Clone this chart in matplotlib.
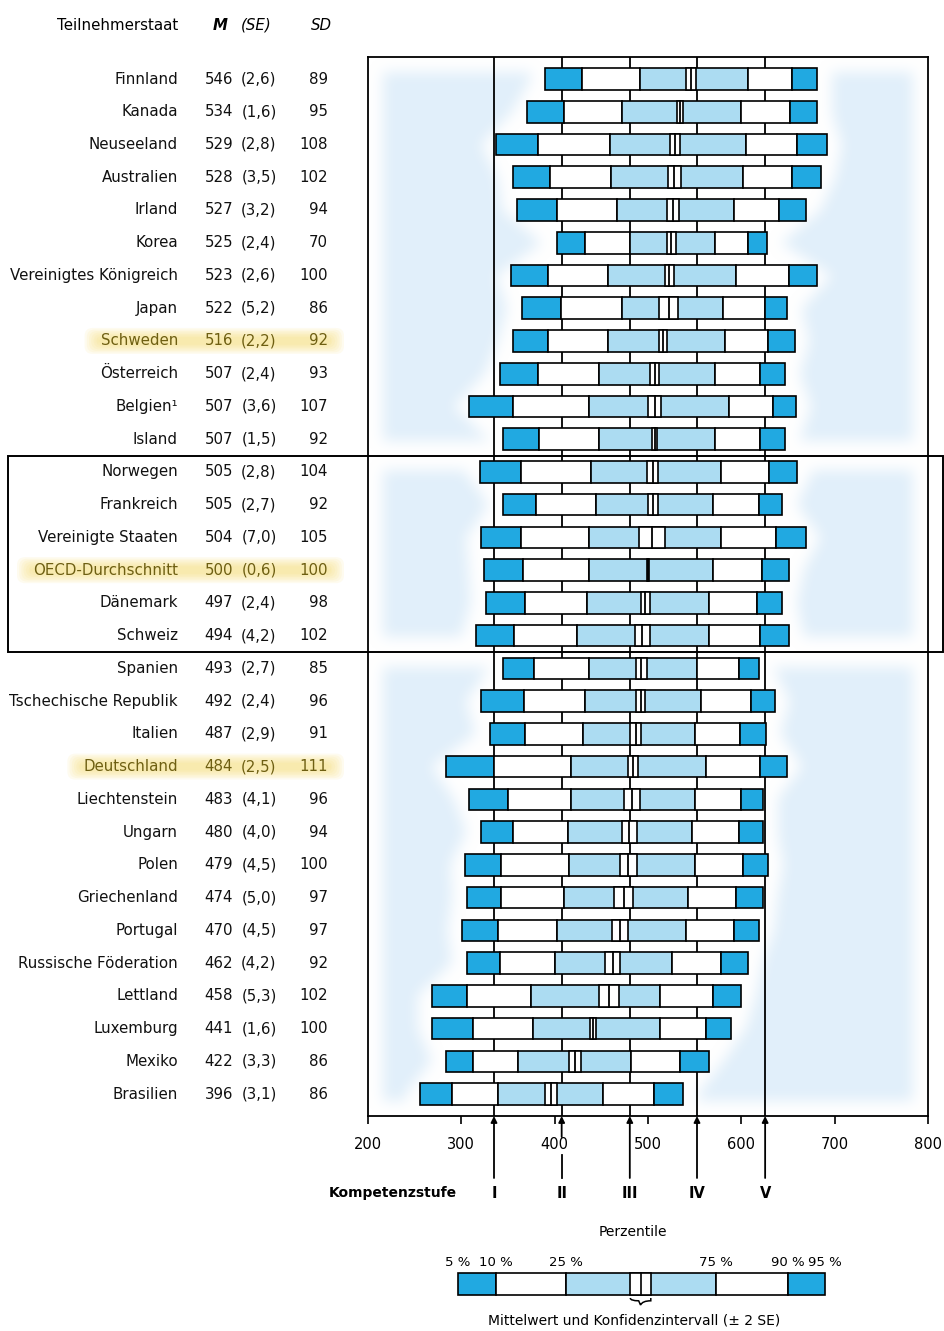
import numpy as np
import matplotlib
matplotlib.use("Agg")
import matplotlib.pyplot as plt
import matplotlib.transforms as mtransforms
from matplotlib.patches import Rectangle, FancyBboxPatch, PathPatch
from matplotlib.path import Path
from matplotlib.colors import LinearSegmentedColormap

plt.rcParams['font.family'] = ['DejaVu Sans']


## Daten (Lesekompetenz, Perzentile)

laender = ["Finnland", "Kanada", "Neuseeland", "Australien", "Irland", "Korea",
           "Vereinigtes Königreich", "Japan", "Schweden", "Österreich", "Belgien¹",
           "Island", "Norwegen", "Frankreich", "Vereinigte Staaten", "OECD-Durchschnitt",
           "Dänemark", "Schweiz", "Spanien", "Tschechische Republik", "Italien",
           "Deutschland", "Liechtenstein", "Ungarn", "Polen", "Griechenland", "Portugal",
           "Russische Föderation", "Lettland", "Luxemburg", "Mexiko", "Brasilien"]

mittel = [546, 534, 529, 528, 527, 525, 523, 522, 516, 507, 507, 507, 505, 505, 504, 500,
          497, 494, 493, 492, 487, 484, 483, 480, 479, 474, 470, 462, 458, 441, 422, 396]
se = [2.6, 1.6, 2.8, 3.5, 3.2, 2.4, 2.6, 5.2, 2.2, 2.4, 3.6, 1.5, 2.8, 2.7, 7.0, 0.6,
      2.4, 4.2, 2.7, 2.4, 2.9, 2.5, 4.1, 4.0, 4.5, 5.0, 4.5, 4.2, 5.3, 1.6, 3.3, 3.1]
sd = [89, 95, 108, 102, 94, 70, 100, 86, 92, 93, 107, 92, 104, 92, 105, 100,
      98, 102, 85, 96, 91, 111, 96, 94, 100, 97, 97, 92, 102, 100, 86, 86]

p05 = [390, 370, 337, 355, 360, 402, 353, 365, 355, 341, 308, 345, 320, 345, 321, 324,
       326, 316, 345, 321, 331, 284, 308, 321, 304, 306, 301, 306, 269, 269, 284, 256]
p10 = [429, 410, 382, 395, 402, 432, 393, 407, 393, 382, 355, 383, 364, 380, 364, 366,
       368, 356, 378, 367, 368, 335, 350, 355, 343, 343, 339, 341, 306, 312, 312, 290]
p25 = [491, 472, 459, 460, 467, 481, 457, 472, 457, 447, 437, 447, 439, 444, 437, 437,
       435, 424, 437, 432, 430, 417, 417, 414, 415, 410, 402, 400, 375, 377, 361, 339]
p75 = [607, 600, 605, 602, 592, 572, 594, 580, 582, 572, 587, 572, 578, 570, 578, 570,
       565, 565, 552, 557, 550, 562, 550, 547, 550, 543, 541, 526, 513, 513, 482, 452]
p90 = [654, 652, 660, 654, 640, 607, 651, 625, 629, 620, 634, 620, 630, 619, 637, 622,
       617, 620, 598, 610, 599, 620, 600, 597, 602, 594, 592, 578, 570, 562, 534, 506]
p95 = [681, 681, 692, 685, 669, 627, 681, 649, 657, 647, 659, 647, 660, 644, 669, 651,
       644, 651, 619, 636, 626, 649, 623, 623, 629, 623, 619, 607, 600, 589, 565, 538]

gruppen = [12, 6, 14]          # oberhalb / nicht signifikant verschieden / unterhalb
hervorgehoben = ["Schweden", "OECD-Durchschnitt", "Deutschland"]

stufen = ["I", "II", "III", "IV", "V"]
stufen_grenzen = [335, 407.5, 480.5, 552.5, 625.5]

x_ticks = [200, 300, 400, 500, 600, 700, 800]

# Legende (schematischer Balken)
legende_labels = ["5 %", "10 %", "25 %", "75 %", "90 %", "95 %"]
legende_werte = [296, 337, 412, 573, 650, 690]
legende_mittel = 492
legende_ki = 11

dunkelblau = "#21a9e1"
hellblau = "#acdcf2"
hintergrund = "#e1effa"
gelb_text = "#6e5f12"


## Abbildung

W, H = 945, 1331
fig = plt.figure(figsize=(W / 100, H / 100), dpi=100)
ax = fig.add_axes([368 / W, 1 - 1116 / H, 560 / W, (1116 - 57) / H])

n = len(laender)
y_oben, y_unten = -0.672, 31.67
grenzen = list(np.cumsum(gruppen)[:-1] - 0.5)

# weicher hellblauer Hintergrund, der sich an die Balkenenden anschmiegt
nx, ny = 560, 1059
xs = np.linspace(200, 800, nx)
ys = np.linspace(y_oben, y_unten, ny)
XX, YY = np.meshgrid(xs, ys)
maske = np.zeros((ny, nx))
kanten = [y_oben] + grenzen + [y_unten]
start = 0
for g in range(len(gruppen)):
    zeilen = np.arange(start, start + gruppen[g])
    start += gruppen[g]
    links = np.interp(ys, zeilen, [p05[i] - 16 for i in zeilen])
    rechts = np.interp(ys, zeilen, [p95[i] + 16 for i in zeilen])
    innen = (XX > 216) & (XX < 784) & (YY > kanten[g] + 0.45) & (YY < kanten[g + 1] - 0.45)
    aussen = (XX < links[:, None]) | (XX > rechts[:, None])
    maske[innen & aussen] = 1

def glaetten(a, r, achse):
    k = np.ones(2 * r + 1) / (2 * r + 1)
    return np.apply_along_axis(lambda v: np.convolve(v, k, mode="same"), achse, a)

for _ in range(3):
    maske = glaetten(maske, 6, 0)
    maske = glaetten(maske, 6, 1)

cmap = LinearSegmentedColormap.from_list("bg", ["white", hintergrund])
ax.imshow(maske, extent=(200, 800, y_unten, y_oben), origin="upper", aspect="auto",
          cmap=cmap, vmin=0, vmax=1, zorder=0, interpolation="bilinear")

# Kompetenzstufen-Linien
for g in stufen_grenzen:
    ax.axvline(g, color="black", lw=1.3, zorder=1)

# Balken
h = 0.66
for i in range(n):
    teile = [(p05[i], p10[i], dunkelblau), (p10[i], p25[i], "white"),
             (p25[i], p75[i], hellblau), (p75[i], p90[i], "white"),
             (p90[i], p95[i], dunkelblau)]
    for a, b, farbe in teile:
        ax.barh(i, b - a, left=a, height=h, color=farbe, edgecolor="black",
                linewidth=1.2, zorder=3)
    lo, hi = mittel[i] - 2 * se[i], mittel[i] + 2 * se[i]
    ax.add_patch(Rectangle((lo, i - h / 2), hi - lo, h, facecolor="white",
                           edgecolor="black", linewidth=1.2, zorder=4))
    ax.plot([mittel[i], mittel[i]], [i - h / 2, i + h / 2], color="black", lw=1.3, zorder=5)

ax.set_xlim(200, 800)
ax.set_ylim(y_unten, y_oben)
ax.set_yticks([])
ax.set_xticks(x_ticks)
ax.tick_params(axis="x", direction="out", length=6, width=1.2, pad=9, labelsize=10.5)
for s in ax.spines.values():
    s.set_linewidth(1.3)

# Rahmen um die mittlere Gruppe (über die ganze Breite)
tr_fy = mtransforms.blended_transform_factory(fig.transFigure, ax.transData)
fig.add_artist(Rectangle((8 / W, grenzen[0]), (943 - 8) / W, grenzen[1] - grenzen[0],
                         transform=tr_fy, fill=False, edgecolor="black", linewidth=1.4,
                         zorder=6, clip_on=False))

# Tabelle links
fs = 10.8
texte_hl = []
for i in range(n):
    farbe = gelb_text if laender[i] in hervorgehoben else "#111111"
    t = fig.text(178 / W, i, laender[i], transform=tr_fy, ha="right", va="center",
                 fontsize=fs, color=farbe, zorder=3)
    fig.text(219 / W, i, str(mittel[i]), transform=tr_fy, ha="center", va="center",
             fontsize=fs, color=farbe, zorder=3)
    fig.text(259 / W, i, "(" + f"{se[i]:.1f}".replace(".", ",") + ")", transform=tr_fy,
             ha="center", va="center", fontsize=fs, color=farbe, zorder=3)
    fig.text(328 / W, i, str(sd[i]), transform=tr_fy, ha="right", va="center",
             fontsize=fs, color=farbe, zorder=3)
    if laender[i] in hervorgehoben:
        texte_hl.append(t)

y_kopf = 1 - 25 / H
fig.text(178 / W, y_kopf, "Teilnehmerstaat", ha="right", va="center", fontsize=fs)
fig.text(220 / W, y_kopf, "M", ha="center", va="center", fontsize=fs, style="italic", weight="bold")
fig.text(256 / W, y_kopf, "(SE)", ha="center", va="center", fontsize=fs, style="italic")
fig.text(321 / W, y_kopf, "SD", ha="center", va="center", fontsize=fs, style="italic")

# Pfeile der Kompetenzstufen unter der Achse
tr_xf = mtransforms.blended_transform_factory(ax.transData, fig.transFigure)
y_achse = 1 - 1116 / H
y_ende = 1 - 1178 / H
pfeil = dict(arrowstyle="-|>", lw=1.3, color="black", mutation_scale=9, shrinkA=0, shrinkB=0)
for g, s in zip(stufen_grenzen, stufen):
    if min(abs(g - t) for t in x_ticks) < 12:
        ax.annotate("", xy=(g, y_achse), xycoords=tr_xf, xytext=(g, 1 - 1137 / H),
                    textcoords=tr_xf, arrowprops=pfeil, annotation_clip=False)
        fig.add_artist(plt.Line2D([g, g], [1 - 1155 / H, y_ende], transform=tr_xf,
                                  color="black", lw=1.3))
    else:
        ax.annotate("", xy=(g, y_achse), xycoords=tr_xf, xytext=(g, y_ende),
                    textcoords=tr_xf, arrowprops=pfeil, annotation_clip=False)
    fig.text(g, 1 - 1193 / H, s, transform=tr_xf, ha="center", va="center",
             fontsize=10.5, weight="bold")
fig.text(457 / W, 1 - 1193 / H, "Kompetenzstufe", ha="right", va="center",
         fontsize=10, weight="bold")

# Legende
fig.text(legende_mittel - 8, 1 - 1232 / H, "Perzentile", transform=tr_xf, ha="center",
         va="center", fontsize=10)
lax = fig.add_axes([368 / W, 1 - 1295 / H, 560 / W, 22 / H])
lax.set_xlim(200, 800)
lax.set_ylim(0, 1)
lax.axis("off")
lw_teile = [(0, 1, dunkelblau), (1, 2, "white"), (2, 3, hellblau), (3, 4, "white"), (4, 5, dunkelblau)]
for a, b, farbe in lw_teile:
    lax.barh(0.5, legende_werte[b] - legende_werte[a], left=legende_werte[a], height=1,
             color=farbe, edgecolor="black", linewidth=1.2, clip_on=False)
lo, hi = legende_mittel - legende_ki, legende_mittel + legende_ki
lax.add_patch(Rectangle((lo, 0), hi - lo, 1, facecolor="white", edgecolor="black",
                        linewidth=1.2, clip_on=False))
lax.plot([legende_mittel, legende_mittel], [0, 1], color="black", lw=1.2, clip_on=False)
for w, lab in zip(legende_werte, legende_labels):
    fig.text(w, 1 - 1262 / H, lab, transform=tr_xf, ha="center", va="center", fontsize=9.5)

# geschweifte Klammer unter dem Konfidenzintervall
yk0, yk1 = 1 - 1298 / H, 1 - 1305 / H
ym = yk1 + 0.6 * (yk0 - yk1)
klammer = Path([(lo, yk0), (lo, ym), (legende_mittel - 2, ym), (legende_mittel, yk1),
                (legende_mittel + 2, ym), (hi, ym), (hi, yk0)],
               [Path.MOVETO, Path.CURVE3, Path.CURVE3, Path.LINETO, Path.CURVE3, Path.CURVE3, Path.LINETO])
fig.add_artist(PathPatch(klammer, transform=tr_xf, fill=False, edgecolor="black", lw=1.1))
fig.text(legende_mittel - 7, 1 - 1320 / H, "Mittelwert und Konfidenzintervall (± 2 SE)",
         transform=tr_xf, ha="center", va="center", fontsize=10)

# gelbe Hervorhebung hinter den Zeilen
fig.canvas.draw()
r = fig.canvas.get_renderer()
for t in texte_hl:
    bb = t.get_window_extent(r)
    x0, x1 = bb.x0 - 16, 344
    yc = (bb.y0 + bb.y1) / 2
    for k in range(7):
        d = k * 2.2
        fig.add_artist(FancyBboxPatch((x0 + d, yc - 13 + d * 0.7), x1 - x0 - 2 * d, 26 - 1.4 * d,
                                      boxstyle="round,pad=0,rounding_size=8",
                                      transform=mtransforms.IdentityTransform(),
                                      facecolor="#f6dc72", edgecolor="none", alpha=0.11, zorder=1))

fig.savefig("out.png", dpi=100)
